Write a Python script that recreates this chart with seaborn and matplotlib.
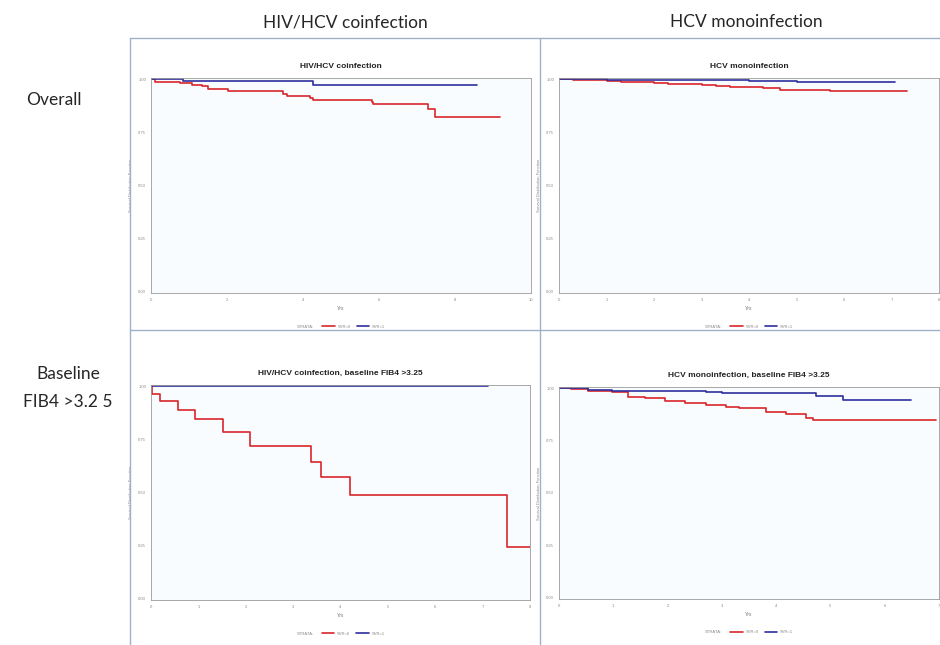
import numpy as np
import pandas as pd
import matplotlib
matplotlib.use("Agg")
import matplotlib.pyplot as plt
from matplotlib.lines import Line2D
import seaborn as sns

# survival estimates (time in years, survival probability)
tl_svr0_t = [0, 0.11, 0.76, 1.07, 1.33, 1.51, 2.03, 3.48, 3.57, 4.18, 4.27, 5.81, 5.85, 7.30, 7.47, 9.18]
tl_svr0_s = [1.0, 0.987, 0.980, 0.973, 0.969, 0.953, 0.942, 0.929, 0.921, 0.909, 0.901, 0.890, 0.882, 0.858, 0.824, 0.824]
tl_svr1_t = [0, 0.85, 4.27, 8.57]
tl_svr1_s = [1.0, 0.989, 0.973, 0.973]

tr_svr0_t = [0, 0.3, 0.6, 1.0, 1.3, 1.6, 2.0, 2.3, 2.6, 3.0, 3.3, 3.6, 4.0, 4.3, 4.65, 5.2, 5.7, 7.32]
tr_svr0_s = [1.0, 0.997, 0.994, 0.992, 0.988, 0.984, 0.980, 0.977, 0.975, 0.972, 0.968, 0.964, 0.961, 0.956, 0.950, 0.948, 0.945, 0.945]
tr_svr1_t = [0, 1.0, 2.5, 4.0, 5.0, 7.07]
tr_svr1_s = [1.0, 0.997, 0.994, 0.991, 0.988, 0.987]

bl_svr0_t = [0, 0.02, 0.18, 0.58, 0.93, 1.51, 2.09, 3.37, 3.58, 4.19, 7.51, 8.0]
bl_svr0_s = [1.0, 0.964, 0.929, 0.887, 0.843, 0.786, 0.717, 0.643, 0.575, 0.488, 0.243, 0.243]
bl_svr1_t = [0, 7.12]
bl_svr1_s = [1.0, 1.0]

br_svr0_t = [0, 0.23, 0.54, 0.97, 1.28, 1.59, 1.96, 2.33, 2.70, 3.07, 3.31, 3.81, 4.18, 4.55, 4.67, 6.95]
br_svr0_s = [1.0, 0.994, 0.984, 0.980, 0.956, 0.951, 0.937, 0.928, 0.918, 0.909, 0.904, 0.885, 0.877, 0.858, 0.849, 0.849]
br_svr1_t = [0, 0.54, 0.97, 2.70, 3.0, 4.74, 5.23, 6.49]
br_svr1_s = [1.0, 0.991, 0.988, 0.983, 0.976, 0.964, 0.943, 0.943]

col_headers = ["HIV/HCV coinfection", "HCV monoinfection"]
row_headers = ["Overall", "Baseline\nFIB4 >3.2 5"]
panel_titles = ["HIV/HCV coinfection", "HCV monoinfection",
                "HIV/HCV coinfection, baseline FIB4 >3.25", "HCV monoinfection, baseline FIB4 >3.25"]
x_max = [10, 8, 8, 7]
x_step = [2, 1, 1, 1]
y_ticks = [0.0, 0.25, 0.5, 0.75, 1.0]
y_labels = ["0.00", "0.25", "0.50", "0.75", "1.00"]

sns.set_style("white")
plt.rcParams["font.family"] = ["Liberation Sans", "DejaVu Sans"]

RED = "#d8262a"
BLUE = "#2e2f9c"

fig = plt.figure(figsize=(9.4, 6.45), dpi=100)

def fx(px):
    return px / 940

def fy(py):
    return 1 - py / 645

# panel boxes in pixels: left, top, right, bottom
boxes = [(151, 78, 531, 293), (559, 78, 939, 293), (151, 385, 530, 600), (559, 387, 939, 599)]
curves = [
    (tl_svr0_t, tl_svr0_s, tl_svr1_t, tl_svr1_s),
    (tr_svr0_t, tr_svr0_s, tr_svr1_t, tr_svr1_s),
    (bl_svr0_t, bl_svr0_s, bl_svr1_t, bl_svr1_s),
    (br_svr0_t, br_svr0_s, br_svr1_t, br_svr1_s),
]

for i, (l, t, r, b) in enumerate(boxes):
    ax = fig.add_axes([fx(l), fy(b), fx(r - l), (b - t) / 645])
    ax.set_facecolor("#f9fcfe")
    t0, s0, t1, s1 = curves[i]
    d0 = pd.DataFrame({"time": t0, "surv": s0})
    d1 = pd.DataFrame({"time": t1, "surv": s1})
    sns.lineplot(data=d0, x="time", y="surv", ax=ax, color=RED, lw=1.2,
                 drawstyle="steps-post", estimator=None, sort=False)
    sns.lineplot(data=d1, x="time", y="surv", ax=ax, color=BLUE, lw=1.2,
                 drawstyle="steps-post", estimator=None, sort=False)
    ax.set_xlim(0, x_max[i])
    ax.set_ylim(-0.005, 1.005)
    ax.set_xticks(np.arange(0, x_max[i] + 1, x_step[i]))
    ax.set_yticks(y_ticks)
    ax.set_yticklabels(y_labels)
    ax.tick_params(labelsize=3, colors="#888888", length=2, width=0.5, pad=1.5)
    for sp in ax.spines.values():
        sp.set_color("#9a9a9a")
        sp.set_linewidth(0.6)
    ax.set_xlabel("Yrs", fontsize=3.5, color="#777777", labelpad=3)
    ax.set_ylabel("Survival Distribution Function", fontsize=3, color="#888888", labelpad=4)
    ax.set_title(panel_titles[i], fontsize=6, fontweight="bold", color="#222222", pad=7)
    # small legend under the axis
    handles = [Line2D([], [], color=RED, lw=1.2), Line2D([], [], color=BLUE, lw=1.2)]
    leg = ax.legend(handles, ["SVR=0", "SVR=1"], title="STRATA:", ncol=2, frameon=False,
                    fontsize=3, title_fontsize=3, loc="upper center",
                    bbox_to_anchor=(0.5, -0.13), handlelength=3, columnspacing=1.5,
                    handletextpad=0.6)
    leg._legend_box.align = "left"
    leg.get_title().set_color("#888888")
    for txt in leg.get_texts():
        txt.set_color("#888888")
    # put the title beside the entries
    leg._legend_box.sep = 0
    from matplotlib.offsetbox import HPacker
    title_box, body = leg._legend_box.get_children()[:2]
    leg._legend_box._children = [HPacker(children=[title_box, body], pad=0, sep=6, align="center")]

# grid frame lines
frame_color = "#9fb0c8"
for (x0, y0, x1, y1) in [(130, 38, 940, 38), (130, 330, 940, 330), (130, 38, 130, 645), (540, 38, 540, 645)]:
    fig.add_artist(Line2D([fx(x0), fx(x1)], [fy(y0), fy(y1)], color=frame_color, lw=1.0))

hdr_font = ["Lato", "DejaVu Sans"]
fig.text(fx(345), fy(22), col_headers[0], ha="center", va="center", fontsize=12.5, family=hdr_font)
fig.text(fx(746), fy(22), col_headers[1], ha="center", va="center", fontsize=12.5, family=hdr_font)
fig.text(fx(54), fy(100), row_headers[0], ha="center", va="center", fontsize=12.5, family=hdr_font)
fig.text(fx(68), fy(388), row_headers[1], ha="center", va="center", fontsize=12.5,
         family=hdr_font, linespacing=1.9)

fig.savefig("out.png", dpi=100)
